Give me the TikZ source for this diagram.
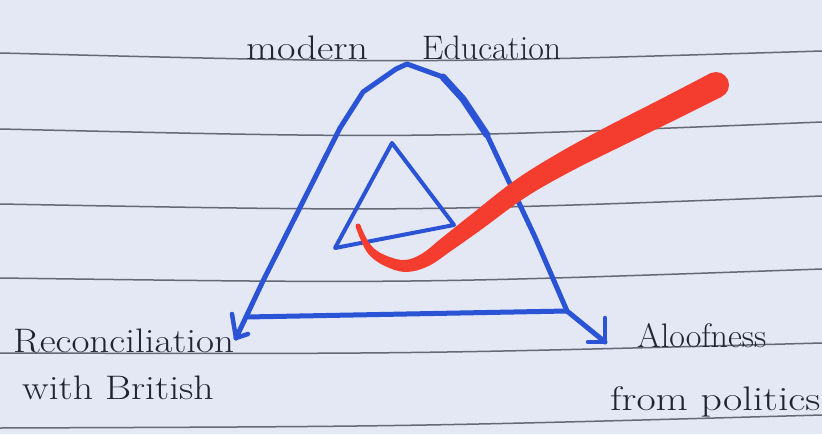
\documentclass[tikz,border=0pt]{standalone}
\usetikzlibrary{arrows.meta}
\definecolor{paper}{HTML}{E4E8F4}
\definecolor{rulegray}{HTML}{666873}
\definecolor{pen}{HTML}{2A53D6}
\definecolor{ink}{HTML}{22242F}
\definecolor{tick}{HTML}{F53D2F}
\begin{document}
\begin{tikzpicture}[x=1pt,y=-1pt,
  ruled/.style={draw=rulegray,line width=1.5pt},
  bigtri/.style={draw=pen,line width=5pt,line join=round,line cap=round},
  smalltri/.style={draw=pen,line width=4pt,line join=round,line cap=round},
  barb/.style={draw=pen,line width=4.5pt,line cap=round},
  hand/.style={text=ink,font=\fontsize{34}{40}\selectfont,inner sep=0pt,anchor=base west}]
\fill[paper] (0,0) rectangle (822,434);
\useasboundingbox (0,0) rectangle (822,434);
% ruled lines of the paper (slightly bowed)
\draw[ruled] (0,53) .. controls (411,63.5) .. (822,51);
\draw[ruled] (0,129) .. controls (411,138.5) .. (822,122);
\draw[ruled] (0,204) .. controls (411,211.5) .. (822,196);
\draw[ruled] (0,278) .. controls (411,283.5) .. (822,269);
\draw[ruled] (0,353) .. controls (411,354) .. (822,343);
\draw[ruled] (0,428) .. controls (411,426.5) .. (822,415);
% labels
\node[hand] (mod) at (246,59) {\scalebox{1.18}[1]{modern}};
\node[hand] (edu) at (422,59) {Education};
\node[hand] (rec1) at (13,352) {\scalebox{1.15}[1]{Reconciliation}};
\node[hand] (rec2) at (22,399) {\scalebox{1.17}[1]{with British}};
\node[hand] (alo1) at (637,347) {Aloofness};
\node[hand] (alo2) at (610,410) {\scalebox{1.23}[1]{from politics}};
% big triangle
\coordinate (tipL) at (236,338);
\coordinate (bl) at (246,317);
\coordinate (l3) at (263,281);
\coordinate (l2) at (340,128);
\coordinate (l1) at (363,92);
\coordinate (l0) at (396,69);
\coordinate (apex) at (407,64);
\coordinate (r0) at (443,77);
\coordinate (r1) at (463,99);
\coordinate (r2) at (487,135);
\coordinate (r3) at (535,237);
\coordinate (br) at (567,311);
\coordinate (tipR) at (605,342);
\draw[bigtri] (tipL) -- (bl) -- (l3) -- (l2) -- (l1) -- (l0) -- (apex) -- (r0) -- (r1) -- (r2) -- (r3) -- (br) -- (tipR);
\draw[bigtri,line width=7pt] (r0) -- (r1) -- (r2);
\draw[bigtri] (bl) -- (br);
\draw[barb] (tipL) -- ++(-4,-24);
\draw[barb] (tipL) -- ++(12,-4);
\draw[barb] (tipR) -- ++(0,-24);
\draw[barb] (tipR) -- ++(-17,0);
% inner triangle
\coordinate (ia) at (392,143);
\coordinate (ir) at (454,225);
\coordinate (il) at (335,248);
\draw[smalltri] (ia) -- (ir) -- (il) -- cycle;
% red check mark: a stroke that widens towards its upper end
\coordinate (cstart) at (358,226);
\coordinate (cend) at (716,85);
\fill[tick] plot[smooth,tension=0.6] coordinates {(355.7,227.0) (361.4,241.4) (369.2,254.9) (384.0,265.6) (405.2,272.0) (428.2,266.2) (451.8,250.4) (480.4,230.2) (525.6,197.3) (570.4,171.6) (618.4,147.7) (670.6,122.2) (721.9,96.6)}
  -- plot[smooth,tension=0.6] coordinates {(710.1,73.4) (659.4,99.8) (607.6,126.3) (559.6,152.4) (514.4,180.7) (469.6,215.8) (442.2,237.6) (421.8,253.8) (404.8,260.0) (388.0,256.4) (374.8,249.1) (366.6,238.6) (360.3,225.0)} -- cycle;
\fill[tick] (cend) circle[radius=13];
\fill[tick] (cstart) circle[radius=2.5];
\end{tikzpicture}
\end{document}
